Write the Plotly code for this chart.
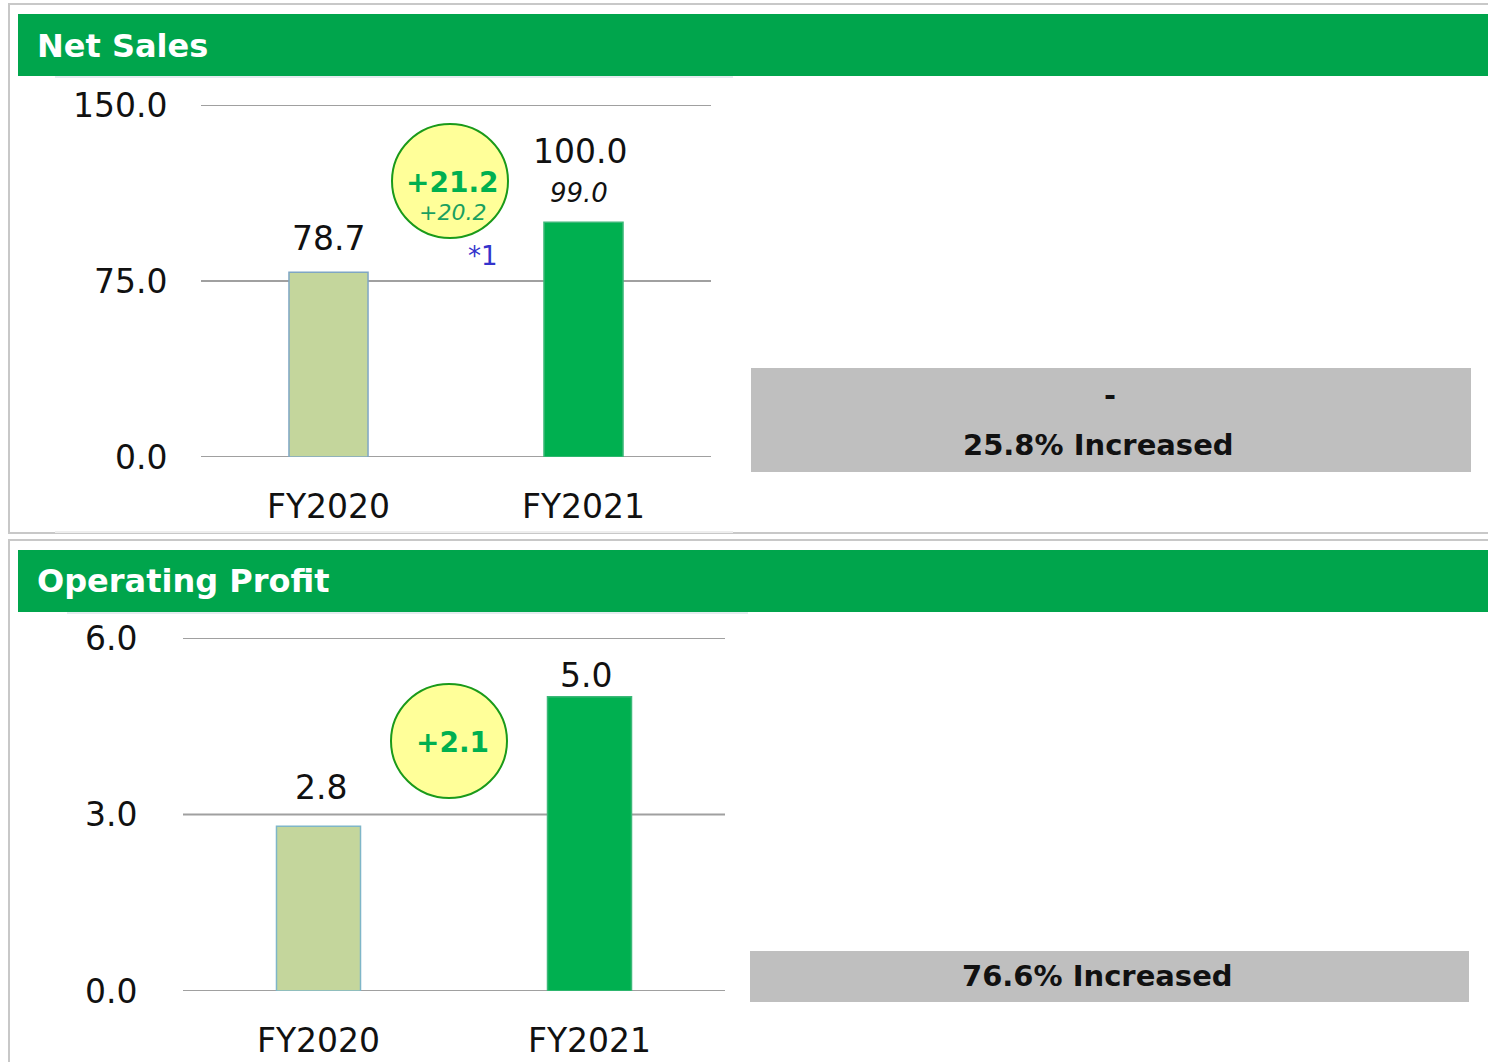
import plotly.graph_objects as go

W, H = 1488, 1062

categories = ["FY2020", "FY2021"]
net_sales = [78.7, 100.0]
net_sales_forecast_fy2021 = 99.0
net_sales_diff = "+21.2"
net_sales_diff_forecast = "+20.2"
op_profit = [2.8, 5.0]
op_profit_diff = "+2.1"
net_sales_ticks = [0.0, 75.0, 150.0]
op_profit_ticks = [0.0, 3.0, 6.0]
net_sales_comment = ["-", "25.8% Increased"]
op_profit_comment = ["76.6% Increased"]

FONT = "DejaVu Sans, Verdana, sans-serif"
GREEN_HDR = "#00a54c"
BAR_OLD = "#c4d69c"
BAR_NEW = "#00b050"
GRID = "#a0a0a0"


def px(x):
    return x / W


def py(y):
    return 1 - y / H


fig = go.Figure()

fig.add_trace(go.Bar(
    x=categories, y=net_sales, width=0.31,
    marker=dict(color=[BAR_OLD, BAR_NEW], line=dict(color=["#7fa6c4", "#3cb878"], width=1.5)),
    xaxis="x", yaxis="y", hoverinfo="skip", showlegend=False,
))
fig.add_trace(go.Bar(
    x=categories, y=op_profit, width=0.31,
    marker=dict(color=[BAR_OLD, BAR_NEW], line=dict(color=["#7fb6c8", "#3cb878"], width=1.5)),
    xaxis="x2", yaxis="y2", hoverinfo="skip", showlegend=False,
))

axis_common = dict(showline=False, zeroline=False, fixedrange=True, automargin=False)
fig.update_layout(
    width=W, height=H,
    margin=dict(l=0, r=0, t=0, b=0, autoexpand=False),
    paper_bgcolor="white", plot_bgcolor="white",
    font=dict(family=FONT, color="#111111"),
    bargap=0,
    xaxis=dict(domain=[px(201), px(711)], anchor="y", showgrid=False,
               ticks="outside", ticklen=20, tickcolor="rgba(0,0,0,0)",
               tickfont=dict(size=33, color="#111"), **axis_common),
    yaxis=dict(domain=[py(457), py(105)], anchor="x", range=[0, 150],
               tickvals=net_sales_ticks, ticktext=[f"{v:.1f}" for v in net_sales_ticks],
               showgrid=False,
               ticks="outside", ticklen=26, tickcolor="rgba(0,0,0,0)",
               tickfont=dict(size=33, color="#111"), **axis_common),
    xaxis2=dict(domain=[px(183), px(725)], anchor="y2", showgrid=False,
                ticks="outside", ticklen=20, tickcolor="rgba(0,0,0,0)",
                tickfont=dict(size=33, color="#111"), **axis_common),
    yaxis2=dict(domain=[py(991), py(638)], anchor="x2", range=[0, 6],
                tickvals=op_profit_ticks, ticktext=[f"{v:.1f}" for v in op_profit_ticks],
                showgrid=False,
                ticks="outside", ticklen=38, tickcolor="rgba(0,0,0,0)",
                tickfont=dict(size=33, color="#111"), **axis_common),
)

shapes = []
# panel frames
shapes.append(dict(type="rect", xref="paper", yref="paper", x0=px(9), x1=px(1500), y0=py(533), y1=py(4),
                   line=dict(color="#c8c8c8", width=2), fillcolor="rgba(0,0,0,0)", layer="below"))
shapes.append(dict(type="rect", xref="paper", yref="paper", x0=px(9), x1=px(1500), y0=py(1075), y1=py(540),
                   line=dict(color="#c8c8c8", width=2), fillcolor="rgba(0,0,0,0)", layer="below"))
# green headers
for y0, y1 in [(14, 76), (550, 612)]:
    shapes.append(dict(type="rect", xref="paper", yref="paper", x0=px(18), x1=px(1488), y0=py(y1), y1=py(y0),
                       line=dict(width=0), fillcolor=GREEN_HDR, layer="below"))
# faint separator lines
shapes.append(dict(type="line", xref="paper", yref="paper", x0=px(55), x1=px(733), y0=py(77), y1=py(77),
                   line=dict(color="#e3ecef", width=2)))
shapes.append(dict(type="line", xref="paper", yref="paper", x0=px(55), x1=px(733), y0=py(532), y1=py(532),
                   line=dict(color="#eeeeee", width=2)))
shapes.append(dict(type="line", xref="paper", yref="paper", x0=px(67), x1=px(748), y0=py(613), y1=py(613),
                   line=dict(color="#e3ecef", width=2)))
# gridlines from tick values
for t in net_sales_ticks:
    shapes.append(dict(type="line", xref="x domain", yref="y", x0=0, x1=1, y0=t, y1=t,
                       line=dict(color=GRID, width=2), layer="below"))
for t in op_profit_ticks:
    shapes.append(dict(type="line", xref="x2 domain", yref="y2", x0=0, x1=1, y0=t, y1=t,
                       line=dict(color=GRID, width=2), layer="below"))
# gray comment boxes
shapes.append(dict(type="rect", xref="paper", yref="paper", x0=px(751), x1=px(1471), y0=py(472), y1=py(368),
                   line=dict(width=0), fillcolor="#bfbfbf", layer="below"))
shapes.append(dict(type="rect", xref="paper", yref="paper", x0=px(750), x1=px(1469), y0=py(1002), y1=py(951),
                   line=dict(width=0), fillcolor="#bfbfbf", layer="below"))
# difference circles
for (x0, x1, y0, y1) in [(392, 508, 124, 238), (391, 507, 684, 798)]:
    shapes.append(dict(type="circle", xref="paper", yref="paper", x0=px(x0), x1=px(x1), y0=py(y1), y1=py(y0),
                       line=dict(color="#1a9a1a", width=2), fillcolor="#ffff99", layer="above"))
fig.update_layout(shapes=shapes)

ann = []


def text_at(x, y, t, size, color="#111", bold=False, italic=False, xanchor="center"):
    s = t
    if bold:
        s = f"<b>{s}</b>"
    if italic:
        s = f"<i>{s}</i>"
    ann.append(dict(xref="paper", yref="paper", x=px(x), y=py(y), text=s, showarrow=False,
                    xanchor=xanchor, yanchor="middle", font=dict(family=FONT, size=size, color=color)))


# headers
text_at(35, 46, "Net Sales", 32, color="white", bold=True, xanchor="left")
text_at(35, 581, "Operating Profit", 32, color="white", bold=True, xanchor="left")

# bar value labels (data-anchored)
ns_shift = [34, 71]
for c, v, s in zip(categories, net_sales, ns_shift):
    ann.append(dict(xref="x", yref="y", x=c, y=v, text=f"{v:.1f}", showarrow=False,
                    yanchor="middle", yshift=s, xshift=(0 if c == categories[0] else -4),
                    font=dict(family=FONT, size=33, color="#111")))
ann.append(dict(xref="x", yref="y", x=categories[1], y=net_sales[1],
                text=f"<i>{net_sales_forecast_fy2021:.1f}</i>", showarrow=False,
                yanchor="middle", yshift=29, xshift=-5, font=dict(family=FONT, size=26, color="#111")))
op_shift = [39, 21]
for c, v, s in zip(categories, op_profit, op_shift):
    ann.append(dict(xref="x2", yref="y2", x=c, y=v, text=f"{v:.1f}", showarrow=False,
                    yanchor="middle", yshift=s, xshift=(2 if c == categories[0] else -4),
                    font=dict(family=FONT, size=33, color="#111")))

# circle texts
text_at(452, 182, net_sales_diff, 28, color="#00b050", bold=True)
text_at(452, 213, net_sales_diff_forecast, 22, color="#1aa060", italic=True)
text_at(483, 256, "*1", 26, color="#3333cc")
text_at(452, 742, op_profit_diff, 28, color="#00b050", bold=True)

# comment boxes
text_at(1110, 395, net_sales_comment[0], 29, color="#111", bold=True)
text_at(1098, 445, net_sales_comment[1], 29, color="#111", bold=True)
text_at(1097, 976, op_profit_comment[0], 29, color="#111", bold=True)

fig.update_layout(annotations=ann)

fig.write_html("out.html", config={"displayModeBar": False, "staticPlot": True},
               post_script="document.body.style.margin='0';document.body.style.overflow='hidden';")
